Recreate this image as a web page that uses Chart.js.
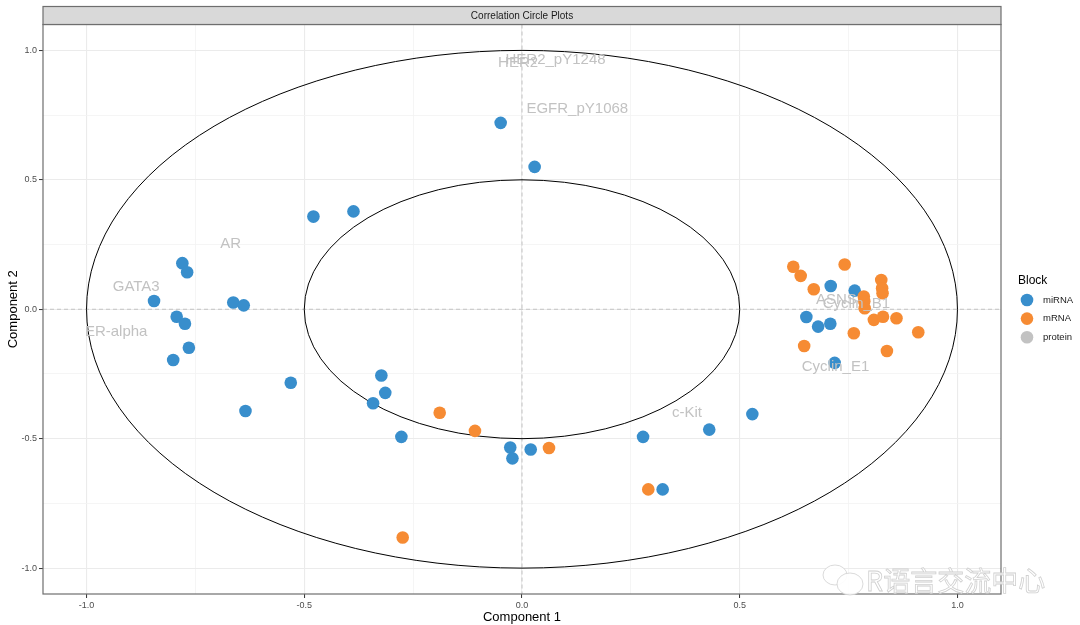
<!DOCTYPE html>
<html><head><meta charset="utf-8">
<script src="https://cdn.jsdelivr.net/npm/chart.js@4/dist/chart.umd.min.js"></script>
<style>html,body{margin:0;padding:0;background:#fff;}#wrap{width:1080px;height:625px;}</style>
</head><body><div id="wrap"><canvas id="c" width="1080" height="625"></canvas></div>
<script>
// ---- text ----
const stripTitle = 'Correlation Circle Plots';
const xTitle = 'Component 1';
const yTitle = 'Component 2';
const legendTitle = 'Block';
const watermark = 'R语言交流中心';
const blockNames = ['miRNA', 'mRNA', 'protein'];
const blockColors = ['#388ECC', '#F68B33', '#C2C2C2'];

// ---- data ----
const miRNA_x = [-0.049, 0.029, -0.479, -0.387, -0.780, -0.769, -0.845, -0.663, -0.639, -0.793, -0.774, -0.765, -0.801, -0.531, -0.635, -0.323, -0.314, -0.342, -0.277, 0.278, 0.430, -0.027, -0.022, 0.020, 0.323, 0.529, 0.709, 0.764, 0.653, 0.680, 0.708, 0.718];
const miRNA_y = [0.720, 0.550, 0.358, 0.378, 0.178, 0.143, 0.032, 0.026, 0.015, -0.029, -0.056, -0.149, -0.196, -0.284, -0.393, -0.256, -0.323, -0.363, -0.493, -0.493, -0.465, -0.534, -0.576, -0.542, -0.696, -0.405, 0.090, 0.072, -0.030, -0.067, -0.056, -0.207];
const mRNA_x = [-0.189, -0.108, 0.062, 0.290, -0.274, 0.623, 0.640, 0.670, 0.741, 0.825, 0.827, 0.828, 0.785, 0.786, 0.787, 0.808, 0.829, 0.860, 0.910, 0.762, 0.648, 0.838];
const mRNA_y = [-0.400, -0.470, -0.536, -0.696, -0.882, 0.164, 0.129, 0.077, 0.173, 0.113, 0.081, 0.062, 0.049, 0.031, 0.004, -0.041, -0.029, -0.035, -0.089, -0.093, -0.142, -0.161];
const proteinNames = ['HER2_pY1248', 'HER2', 'EGFR_pY1068', 'AR', 'GATA3', 'ER-alpha', 'c-Kit', 'ASNS', 'Cyclin_B1', 'Cyclin_E1'];
const proteinX = [0.077, -0.009, 0.127, -0.669, -0.886, -0.932, 0.379, 0.722, 0.768, 0.720];
const proteinY = [0.965, 0.952, 0.775, 0.253, 0.088, -0.087, -0.400, 0.036, 0.020, -0.222];
const circleRadii = [1, 0.5];
const gridValues = [-1, -0.75, -0.5, -0.25, 0, 0.25, 0.5, 0.75, 1];
const axisMin = -1.1, axisMax = 1.1;

const FONT = '"Liberation Sans", Arial, sans-serif';
const isMajor = v => Math.abs(v * 2 - Math.round(v * 2)) < 1e-6;
const pts = (xs, ys) => xs.map((x, i) => ({x: x, y: ys[i]}));

const decor = {
  id: 'decor',
  beforeDraw(chart) {
    const c = chart.ctx;
    c.save(); c.fillStyle = '#fff'; c.fillRect(0, 0, chart.width, chart.height); c.restore();
  },
  beforeDatasetsDraw(chart) {
    const c = chart.ctx, a = chart.chartArea, sx = chart.scales.x, sy = chart.scales.y;
    c.save();
    c.beginPath(); c.rect(a.left, a.top, a.right - a.left, a.bottom - a.top); c.clip();
    // zero lines
    c.strokeStyle = '#C4C4C4'; c.lineWidth = 1; c.setLineDash([4, 3]);
    const x0 = sx.getPixelForValue(0), y0 = sy.getPixelForValue(0);
    c.beginPath(); c.moveTo(x0, a.top); c.lineTo(x0, a.bottom); c.stroke();
    c.beginPath(); c.moveTo(a.left, y0); c.lineTo(a.right, y0); c.stroke();
    c.setLineDash([]);
    // correlation circles
    c.strokeStyle = '#000'; c.lineWidth = 1;
    circleRadii.forEach(r => {
      const rx = sx.getPixelForValue(r) - x0, ry = y0 - sy.getPixelForValue(r);
      c.beginPath(); c.ellipse(x0, y0, rx, ry, 0, 0, Math.PI * 2); c.stroke();
    });
    c.restore();
  },
  afterDatasetsDraw(chart) {
    const c = chart.ctx, meta = chart.getDatasetMeta(2);
    c.save();
    c.font = '15px ' + FONT; c.fillStyle = '#C2C2C2';
    c.textAlign = 'center'; c.textBaseline = 'middle';
    meta.data.forEach((el, i) => c.fillText(proteinNames[i], el.x, el.y));
    c.restore();
  },
  afterDraw(chart) {
    const c = chart.ctx, a = chart.chartArea;
    c.save();
    // panel border
    c.strokeStyle = '#6E6E6E'; c.lineWidth = 1.2;
    c.strokeRect(a.left, a.top, a.right - a.left, a.bottom - a.top);
    // strip
    c.fillStyle = '#D9D9D9';
    c.fillRect(a.left, 6.5, a.right - a.left, a.top - 6.5);
    c.strokeRect(a.left, 6.5, a.right - a.left, a.top - 6.5);
    c.fillStyle = '#1A1A1A'; c.font = '10px ' + FONT;
    c.textAlign = 'center'; c.textBaseline = 'middle';
    c.fillText(stripTitle, (a.left + a.right) / 2, (6.5 + a.top) / 2 + 0.5);
    // legend
    c.textAlign = 'left';
    c.fillStyle = '#000'; c.font = '12px ' + FONT;
    c.fillText(legendTitle, 1018, 281);
    chart.data.datasets.forEach((ds, i) => {
      const y = 300 + i * 18.6;
      c.fillStyle = ds.backgroundColor;
      c.beginPath(); c.arc(1027, y, 6.3, 0, Math.PI * 2); c.fill();
      c.fillStyle = '#1A1A1A'; c.font = '9.5px ' + FONT;
      c.fillText(ds.label, 1043, y);
    });
    // watermark
    c.strokeStyle = '#D0D0D0'; c.lineWidth = 0.8; c.fillStyle = 'rgba(255,255,255,0.9)';
    c.beginPath(); c.ellipse(835, 575, 12, 10, 0, 0, Math.PI * 2); c.fill(); c.stroke();
    c.beginPath(); c.ellipse(850, 584, 13, 11, 0, 0, Math.PI * 2); c.fill(); c.stroke();
    c.font = '27px "Noto Sans CJK SC", sans-serif';
    c.textBaseline = 'middle';
    c.fillText(watermark, 866, 581); c.strokeText(watermark, 866, 581);
    c.restore();
  }
};

function axisCfg(isX) {
  return {
    type: 'linear', min: axisMin, max: axisMax,
    afterBuildTicks: ax => { ax.ticks = gridValues.map(v => ({value: v})); },
    afterFit: ax => { if (isX) ax.height = 31; else ax.width = 43; },
    border: {display: false},
    grid: {
      color: ctx => (ctx.tick && isMajor(ctx.tick.value)) ? '#EBEBEB' : '#F2F2F2',
      lineWidth: ctx => (ctx.tick && isMajor(ctx.tick.value)) ? 1.1 : 0.8,
      drawTicks: true, tickLength: 4, tickWidth: 1,
      tickColor: ctx => (ctx.tick && isMajor(ctx.tick.value)) ? '#333333' : 'rgba(0,0,0,0)'
    },
    ticks: {
      autoSkip: false, maxRotation: 0, padding: 2,
      color: '#4D4D4D', font: {size: 9, family: FONT},
      callback: v => isMajor(v) ? v.toFixed(1) : ''
    },
    title: {
      display: true, text: isX ? xTitle : yTitle, color: '#000',
      font: {size: 13, family: FONT},
      padding: isX ? {top: 0, bottom: 0} : {top: 6, bottom: 0}
    }
  };
}

new Chart(document.getElementById('c'), {
  type: 'scatter',
  data: {
    datasets: [
      {label: blockNames[0], data: pts(miRNA_x, miRNA_y), backgroundColor: blockColors[0], borderWidth: 0, pointRadius: 6.3, order: 1},
      {label: blockNames[1], data: pts(mRNA_x, mRNA_y), backgroundColor: blockColors[1], borderWidth: 0, pointRadius: 6.3, order: 0},
      {label: blockNames[2], data: pts(proteinX, proteinY), backgroundColor: blockColors[2], borderWidth: 0, pointRadius: 0, pointHoverRadius: 0, order: 2}
    ]
  },
  options: {
    responsive: false, animation: false, devicePixelRatio: 1,
    layout: {padding: {left: 0, right: 79, top: 24.5, bottom: 0}},
    plugins: {legend: {display: false}, tooltip: {enabled: false}, title: {display: false}},
    scales: {x: axisCfg(true), y: axisCfg(false)}
  },
  plugins: [decor]
});
</script>
</body></html>
